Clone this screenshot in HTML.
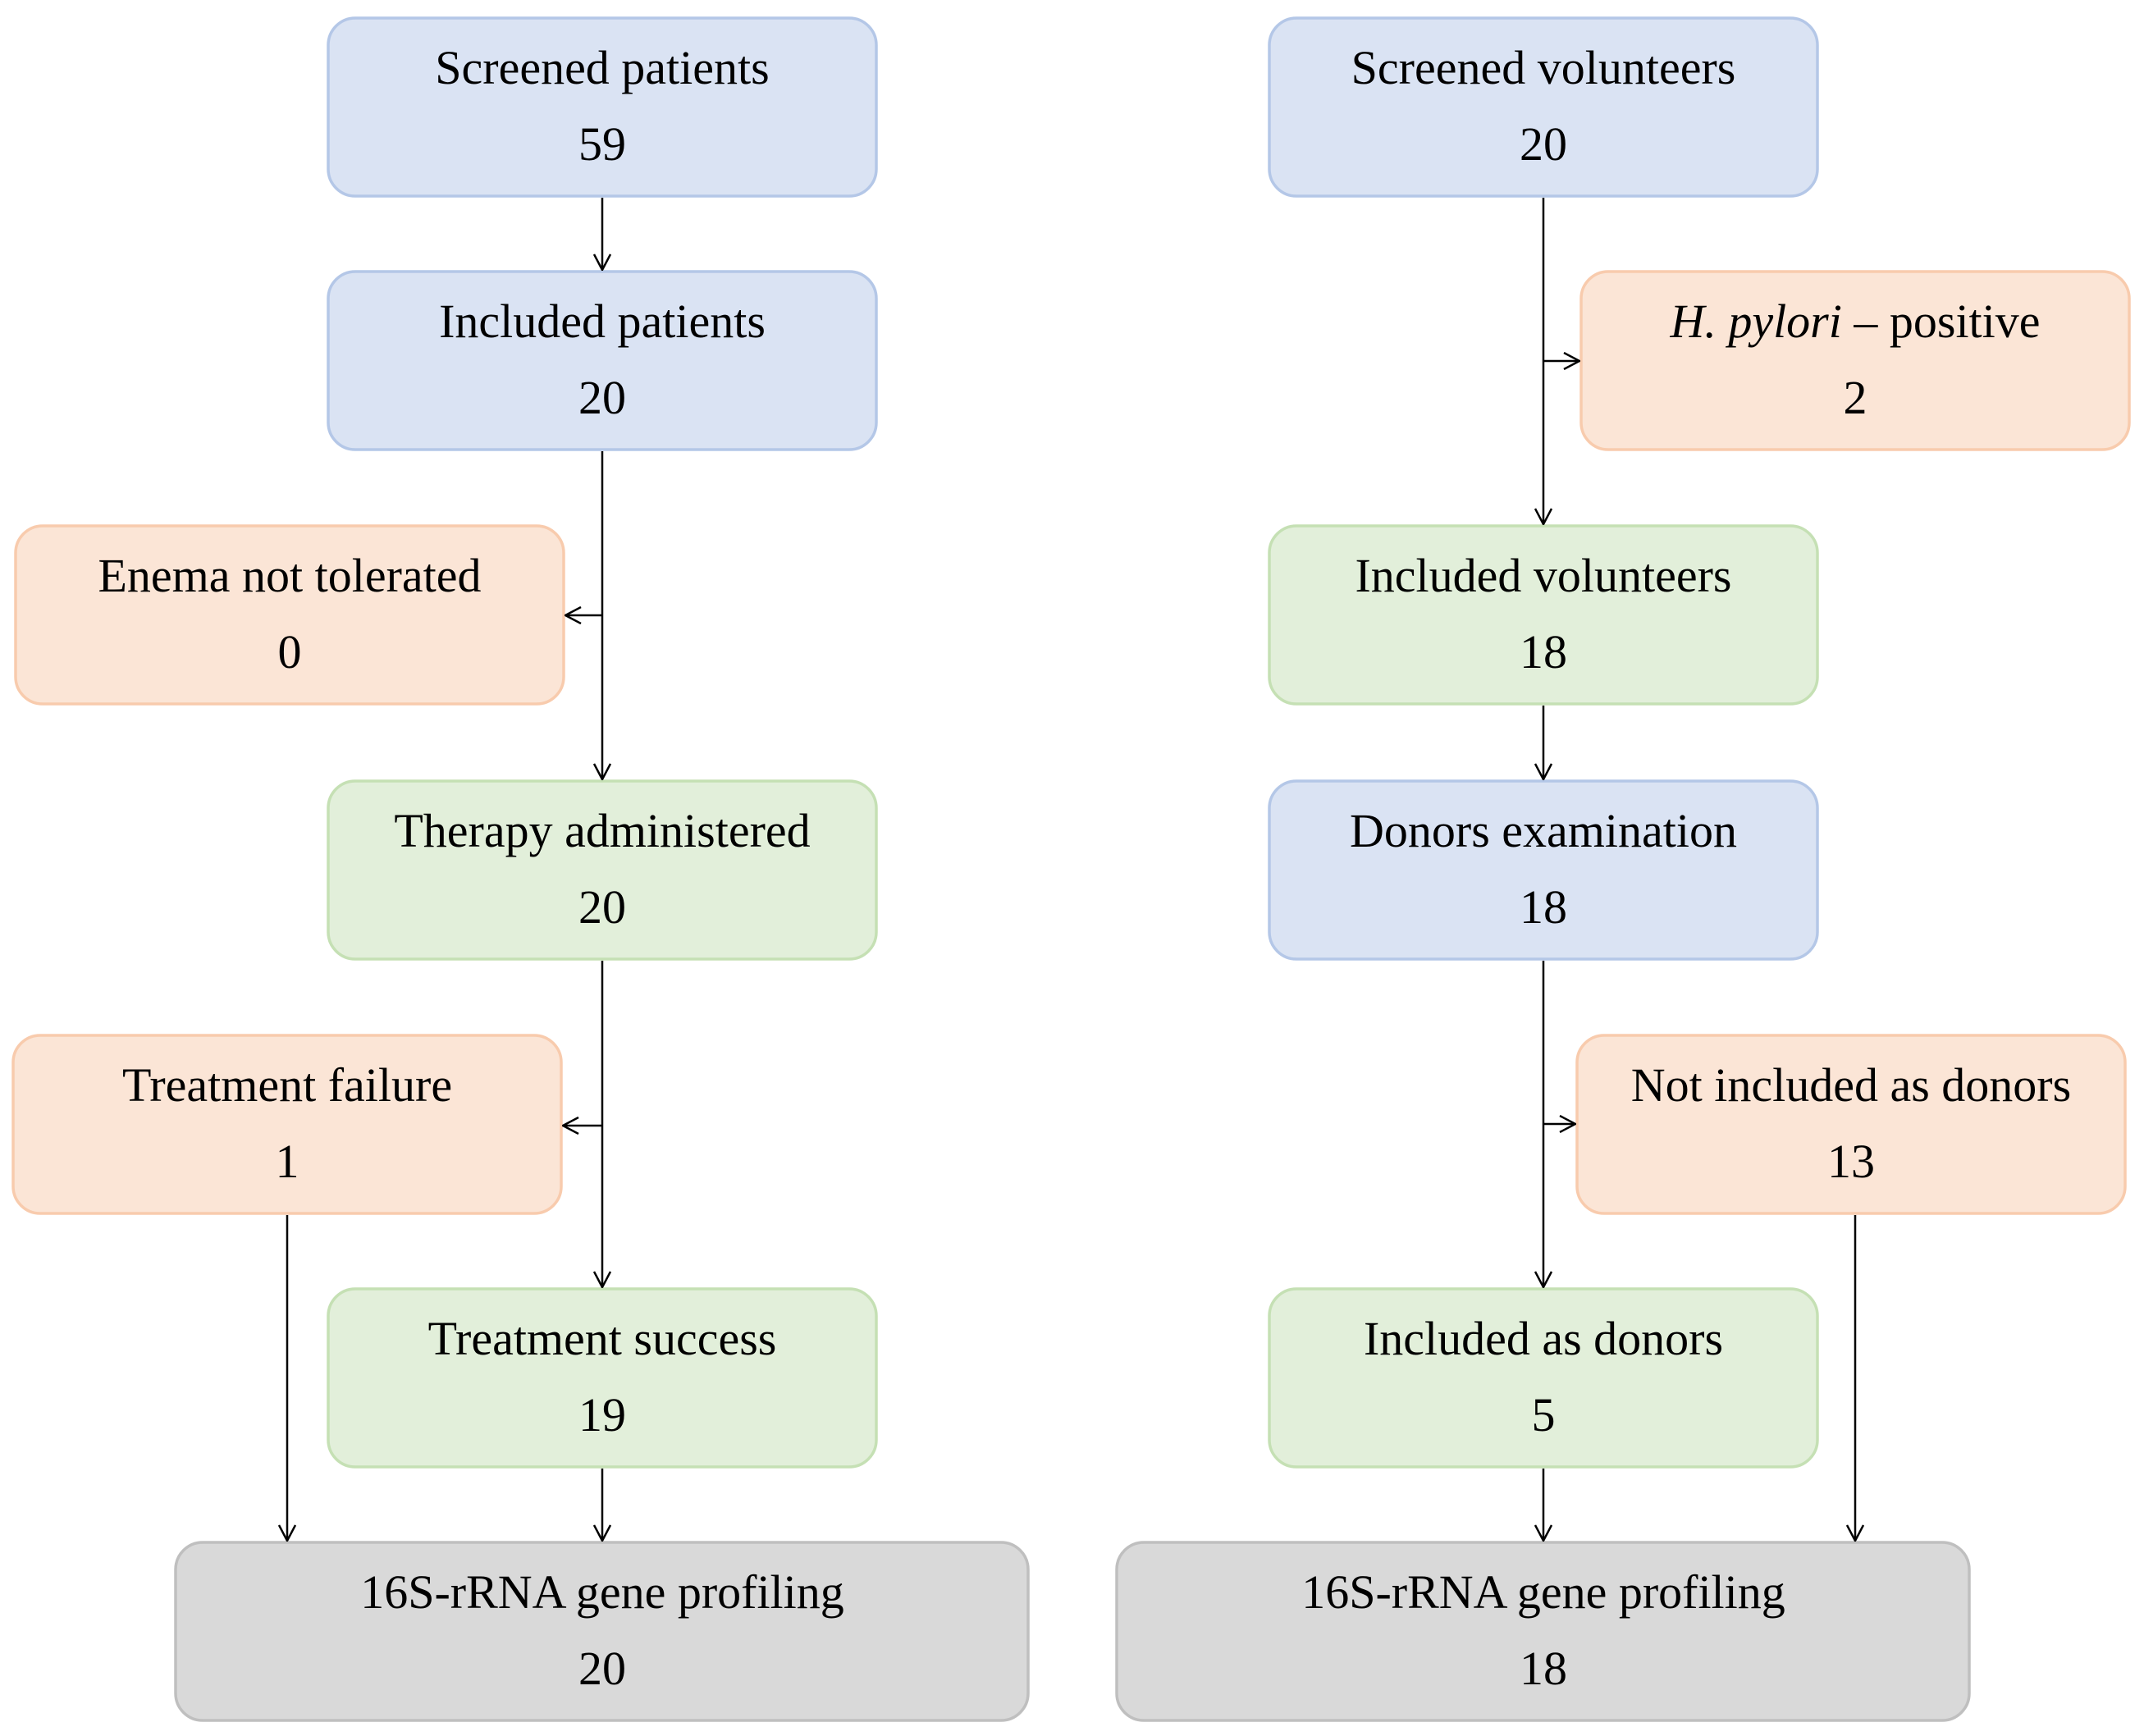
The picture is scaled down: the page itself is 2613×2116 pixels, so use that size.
<!DOCTYPE html>
<html><head><meta charset="utf-8"><style>
html,body{margin:0;padding:0;background:#fff;}
svg{display:block;}
text{font-family:"Liberation Serif",serif;font-size:58px;fill:#000;text-anchor:middle;}
</style></head><body>
<svg width="2613" height="2116" viewBox="0 0 2613 2116" xmlns="http://www.w3.org/2000/svg">
<defs>
<marker id="a" viewBox="0 0 22 22" refX="21" refY="11" markerWidth="22" markerHeight="22" markerUnits="userSpaceOnUse" orient="auto">
<path d="M2,1 L21,11 L2,21" fill="none" stroke="#000" stroke-width="2.5"/>
</marker>
</defs>
<g stroke-width="3.5">
<rect x="400" y="22" width="668" height="217" rx="33" fill="#dae3f3" stroke="#b4c7e7"/>
<rect x="400" y="331" width="668" height="217" rx="33" fill="#dae3f3" stroke="#b4c7e7"/>
<rect x="19" y="641" width="668" height="217" rx="33" fill="#fbe5d6" stroke="#f8cbad"/>
<rect x="400" y="952" width="668" height="217" rx="33" fill="#e2efda" stroke="#c5e0b4"/>
<rect x="16" y="1262" width="668" height="217" rx="33" fill="#fbe5d6" stroke="#f8cbad"/>
<rect x="400" y="1571" width="668" height="217" rx="33" fill="#e2efda" stroke="#c5e0b4"/>
<rect x="214" y="1880" width="1039" height="217" rx="33" fill="#d9d9d9" stroke="#bfbfbf"/>
<rect x="1547" y="22" width="668" height="217" rx="33" fill="#dae3f3" stroke="#b4c7e7"/>
<rect x="1927" y="331" width="668" height="217" rx="33" fill="#fbe5d6" stroke="#f8cbad"/>
<rect x="1547" y="641" width="668" height="217" rx="33" fill="#e2efda" stroke="#c5e0b4"/>
<rect x="1547" y="952" width="668" height="217" rx="33" fill="#dae3f3" stroke="#b4c7e7"/>
<rect x="1922" y="1262" width="668" height="217" rx="33" fill="#fbe5d6" stroke="#f8cbad"/>
<rect x="1547" y="1571" width="668" height="217" rx="33" fill="#e2efda" stroke="#c5e0b4"/>
<rect x="1361" y="1880" width="1039" height="217" rx="33" fill="#d9d9d9" stroke="#bfbfbf"/>
</g>
<g stroke="#000" stroke-width="2.5" fill="none">
<line x1="734" y1="241" x2="734" y2="329" marker-end="url(#a)"/>
<line x1="734" y1="550" x2="734" y2="950" marker-end="url(#a)"/>
<line x1="734" y1="750" x2="689" y2="750" marker-end="url(#a)"/>
<line x1="734" y1="1171" x2="734" y2="1569" marker-end="url(#a)"/>
<line x1="734" y1="1372" x2="686" y2="1372" marker-end="url(#a)"/>
<line x1="734" y1="1790" x2="734" y2="1878" marker-end="url(#a)"/>
<line x1="350" y1="1481" x2="350" y2="1878" marker-end="url(#a)"/>
<line x1="1881" y1="241" x2="1881" y2="639" marker-end="url(#a)"/>
<line x1="1881" y1="440" x2="1925" y2="440" marker-end="url(#a)"/>
<line x1="1881" y1="860" x2="1881" y2="950" marker-end="url(#a)"/>
<line x1="1881" y1="1171" x2="1881" y2="1569" marker-end="url(#a)"/>
<line x1="1881" y1="1370" x2="1920" y2="1370" marker-end="url(#a)"/>
<line x1="1881" y1="1790" x2="1881" y2="1878" marker-end="url(#a)"/>
<line x1="2261" y1="1481" x2="2261" y2="1878" marker-end="url(#a)"/>
</g>
<g>
<text x="734" y="102">Screened patients</text><text x="734" y="195">59</text>
<text x="734" y="411">Included patients</text><text x="734" y="504">20</text>
<text x="353" y="721">Enema not tolerated</text><text x="353" y="814">0</text>
<text x="734" y="1032">Therapy administered</text><text x="734" y="1125">20</text>
<text x="350" y="1342">Treatment failure</text><text x="350" y="1435">1</text>
<text x="734" y="1651">Treatment success</text><text x="734" y="1744">19</text>
<text x="734" y="1960">16S-rRNA gene profiling</text><text x="734" y="2053">20</text>
<text x="1881" y="102">Screened volunteers</text><text x="1881" y="195">20</text>
<text x="2261" y="411"><tspan font-style="italic">H. pylori</tspan> – positive</text><text x="2261" y="504">2</text>
<text x="1881" y="721">Included volunteers</text><text x="1881" y="814">18</text>
<text x="1881" y="1032">Donors examination</text><text x="1881" y="1125">18</text>
<text x="2256" y="1342">Not included as donors</text><text x="2256" y="1435">13</text>
<text x="1881" y="1651">Included as donors</text><text x="1881" y="1744">5</text>
<text x="1881" y="1960">16S-rRNA gene profiling</text><text x="1881" y="2053">18</text>
</g>
</svg>
</body></html>
